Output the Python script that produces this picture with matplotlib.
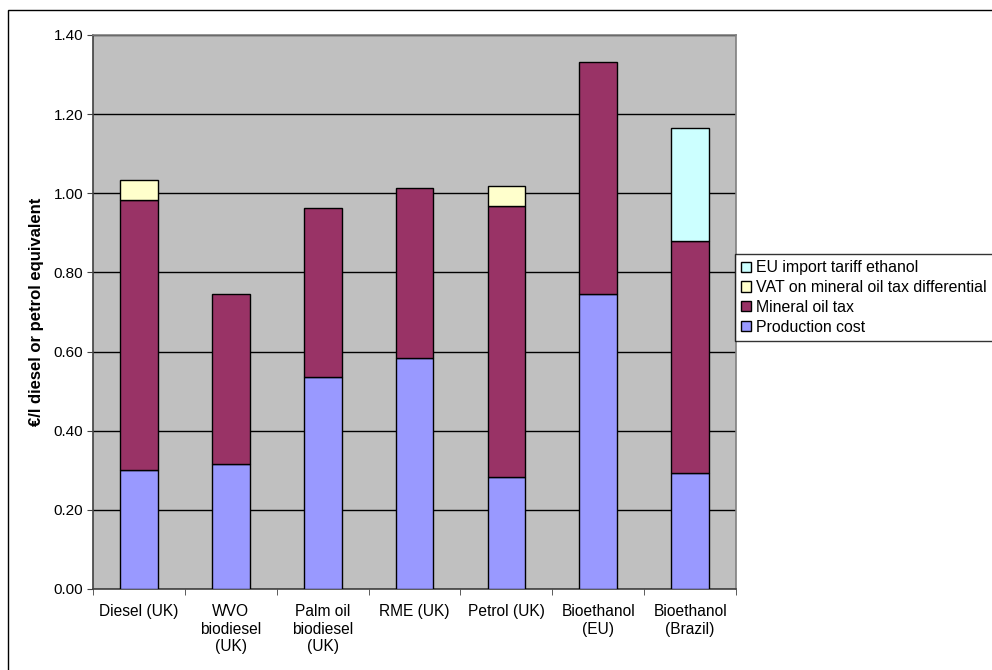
#!/usr/bin/env python3
# Stacked bar chart: cost build-up of fuels per litre (diesel/petrol equivalent)

import numpy as np
import matplotlib
matplotlib.use('Agg')
from matplotlib import pyplot as plt
from matplotlib.patches import Rectangle

#
#   Data
#
categories = ['Diesel (UK)', 'WVO\nbiodiesel\n(UK)', 'Palm oil\nbiodiesel\n(UK)',
              'RME (UK)', 'Petrol (UK)', 'Bioethanol\n(EU)', 'Bioethanol\n(Brazil)']
production_cost = [0.300, 0.316, 0.536, 0.583, 0.284, 0.745, 0.294]
mineral_oil_tax = [0.683, 0.429, 0.426, 0.430, 0.685, 0.587, 0.585]
vat_differential = [0.051, 0.0, 0.0, 0.0, 0.050, 0.0, 0.0]
import_tariff = [0.0, 0.0, 0.0, 0.0, 0.0, 0.0, 0.285]

series_names = ['Production cost', 'Mineral oil tax',
                'VAT on mineral oil tax differential', 'EU import tariff ethanol']
series_colors = ['#9999FF', '#993366', '#FFFFCC', '#CCFFFF']
yticks = [0.0, 0.2, 0.4, 0.6, 0.8, 1.0, 1.2, 1.4]

plt.rcParams['font.family'] = ['Liberation Sans', 'DejaVu Sans']

fig = plt.figure(figsize=(9.92, 6.70), dpi=100)
ax = fig.add_axes([0.0938, 0.1209, 0.6482, 0.8269])
ax.set_facecolor('#C0C0C0')

x = np.arange(len(categories))
bottom = np.zeros(len(categories))
handles = []
for vals, name, col in zip([production_cost, mineral_oil_tax, vat_differential, import_tariff],
                           series_names, series_colors):
    vals = np.array(vals)
    mask = vals > 0
    bars = ax.bar(x[mask], vals[mask], 0.41, bottom=bottom[mask], color=col,
                  edgecolor='black', linewidth=1.0, zorder=3, label=name)
    handles.append(bars)
    bottom = bottom + vals

ax.set_xlim(-0.5, len(categories) - 0.5)
ax.set_ylim(0, 1.4)
ax.set_yticks(yticks)
ax.set_yticklabels(['{:.2f}'.format(v) for v in yticks], fontsize=11)
ax.yaxis.grid(True, color='black', linewidth=1.0, zorder=1)
ax.set_axisbelow(True)

# category labels centred, tick marks between categories
ax.set_xticks(x)
ax.set_xticklabels(categories, fontsize=11.2, linespacing=1.2)
ax.tick_params(axis='x', length=0, pad=11)
ax.set_xticks(np.arange(len(categories) + 1) - 0.5, minor=True)
ax.tick_params(axis='x', which='minor', length=4, direction='out', color='#404040')
ax.tick_params(axis='y', length=4, direction='out', color='#404040', pad=3)

for side in ['top', 'right']:
    ax.spines[side].set_color('#808080')
    ax.spines[side].set_linewidth(1.2)
for side in ['left', 'bottom']:
    ax.spines[side].set_color('#404040')
    ax.spines[side].set_linewidth(1.2)

ax.set_ylabel('€/l diesel or petrol equivalent', fontsize=12, fontweight='bold',
              labelpad=7)

# legend, order as in the reference (top series first)
leg = fig.legend(handles[::-1], series_names[::-1], loc='upper left',
                 bbox_to_anchor=(735 / 992, 1 - 254 / 670), fontsize=11.4,
                 frameon=True, fancybox=False, edgecolor='black',
                 handlelength=0.6, handleheight=0.6, handletextpad=0.35,
                 labelspacing=0.3, borderpad=0.4, borderaxespad=0)
leg.get_frame().set_linewidth(1.0)

# outer chart border
fig.patches.append(Rectangle((8 / 992, -0.05), 1.1, 1 - 10 / 670 + 0.05,
                             transform=fig.transFigure, fill=False,
                             edgecolor='black', linewidth=1.0))

fig.savefig('out.png', dpi=100)
